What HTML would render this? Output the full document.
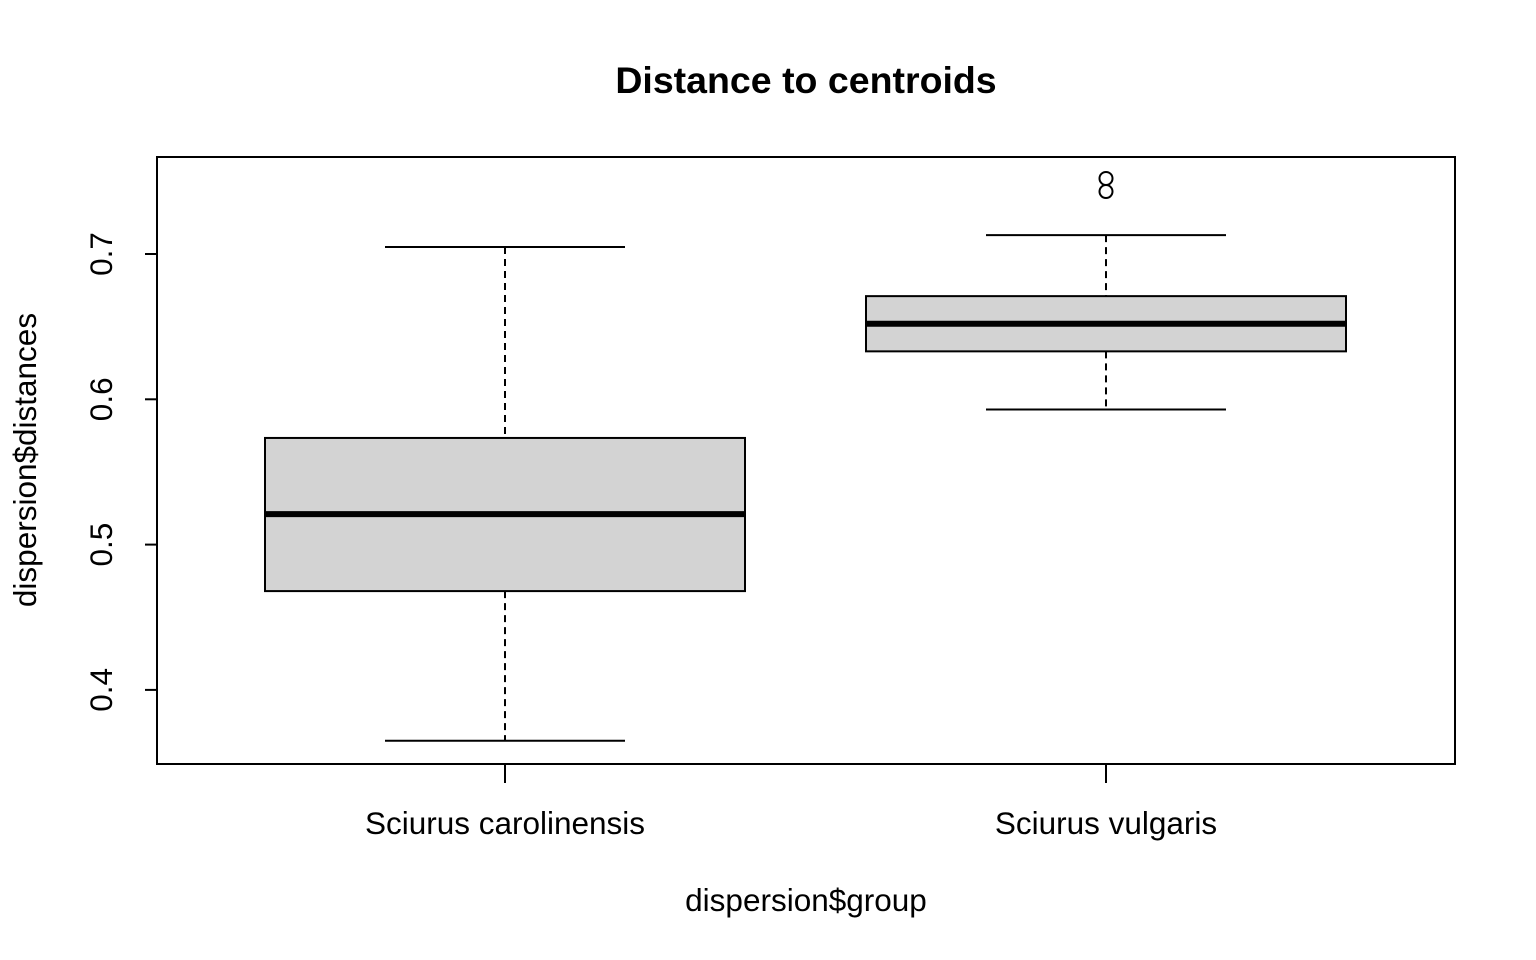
<!DOCTYPE html>
<html><head><meta charset="utf-8"><style>
html,body{margin:0;padding:0;background:#fff;}
svg{display:block;font-family:"Liberation Sans",Arial,sans-serif;}
</style></head><body>
<svg id="chart" width="1536" height="960">
<text x="806" y="93" text-anchor="middle" font-size="37.5" font-weight="bold">Distance to centroids</text>
<rect x="157" y="157" width="1298" height="607" fill="none" stroke="#000" stroke-width="2"/>
<text x="806" y="911" text-anchor="middle" font-size="31.5">dispersion$group</text>
<text transform="translate(36,460) rotate(-90)" text-anchor="middle" font-size="31.5">dispersion$distances</text>
<g id="marks"></g>
</svg>
<script>
const categories = ["Sciurus carolinensis", "Sciurus vulgaris"];
const whiskerLow = [0.365, 0.593];
const q1 = [0.468, 0.633];
const medians = [0.521, 0.652];
const q3 = [0.5734, 0.671];
const whiskerHigh = [0.7048, 0.713];
const outliers = [[], [0.752, 0.743]];
const yTicks = [0.4, 0.5, 0.6, 0.7];
const yTickLabels = ["0.4", "0.5", "0.6", "0.7"];

const NS = "http://www.w3.org/2000/svg";
const g = document.getElementById("marks");
function y(v){ return 254 + (0.7 - v) * 1453; }
function x(i){ return 505 + i * 601; }
function mk(tag, attrs){ const e=document.createElementNS(NS,tag); for(const k in attrs) e.setAttribute(k,attrs[k]); g.appendChild(e); return e; }

yTicks.forEach((t,i)=>{
  const l = mk("line",{x1:145,x2:157,y1:y(t),y2:y(t),stroke:"#000","stroke-width":2});
  
  
  const tx = mk("text",{transform:`translate(112,${y(t)}) rotate(-90)`,"text-anchor":"middle","font-size":31.5});
  tx.textContent = yTickLabels[i];
  
  
});

categories.forEach((c,i)=>{
  const cx = x(i), hw = 240, cw = 120;
  const tk = mk("line",{x1:cx,x2:cx,y1:764,y2:783,stroke:"#000","stroke-width":2});
  
  
  const lb = mk("text",{x:cx,y:834,"text-anchor":"middle","font-size":31.5});
  lb.textContent = c;
  
  
  const w1 = mk("line",{x1:cx,x2:cx,y1:y(whiskerHigh[i]),y2:y(q3[i]),stroke:"#000","stroke-width":2,"stroke-dasharray":"7,5"});
  
  
  const w2 = mk("line",{x1:cx,x2:cx,y1:y(q1[i]),y2:y(whiskerLow[i]),stroke:"#000","stroke-width":2,"stroke-dasharray":"7,5"});
  
  
  const c1 = mk("line",{x1:cx-cw,x2:cx+cw,y1:y(whiskerHigh[i]),y2:y(whiskerHigh[i]),stroke:"#000","stroke-width":2});
  
  
  const c2 = mk("line",{x1:cx-cw,x2:cx+cw,y1:y(whiskerLow[i]),y2:y(whiskerLow[i]),stroke:"#000","stroke-width":2});
  
  
  const b = mk("rect",{x:cx-hw,y:y(q3[i]),width:2*hw,height:y(q1[i])-y(q3[i]),fill:"#d3d3d3",stroke:"#000","stroke-width":2});
  
  
  const m = mk("line",{x1:cx-hw,x2:cx+hw,y1:y(medians[i]),y2:y(medians[i]),stroke:"#000","stroke-width":6});
  
  
  outliers[i].forEach(o=>{
    const p = mk("circle",{cx:cx,cy:y(o),r:6.5,fill:"none",stroke:"#000","stroke-width":2});
    
    
  });
});
</script>
</body></html>
